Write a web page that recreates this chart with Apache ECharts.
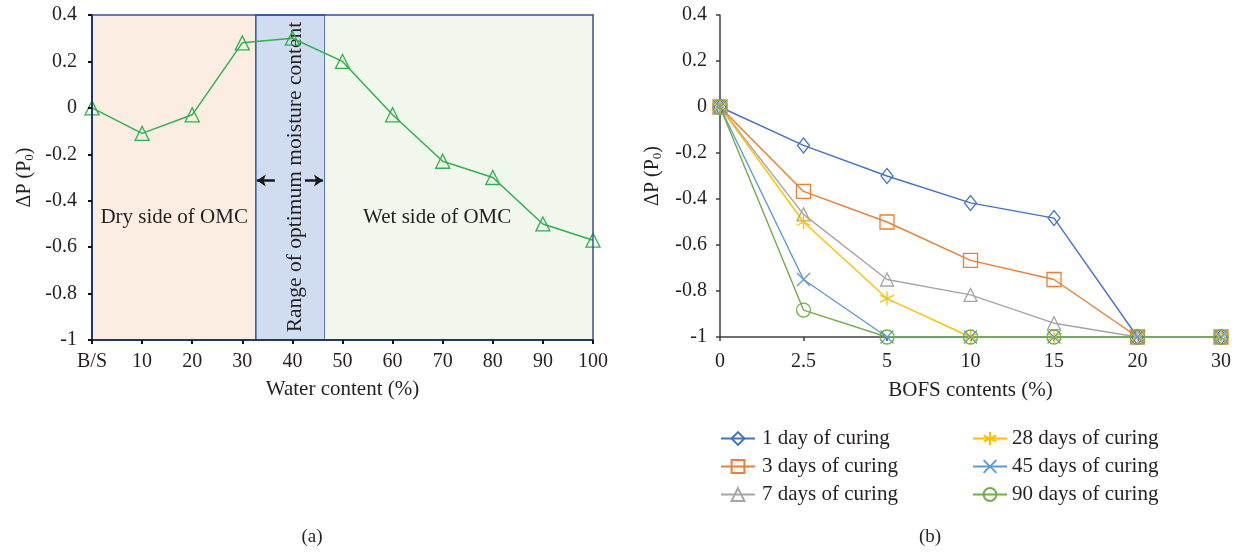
<!DOCTYPE html>
<html>
<head>
<meta charset="utf-8">
<script src="https://cdn.jsdelivr.net/npm/echarts@6/dist/echarts.min.js"></script>
<style>
  html, body { margin: 0; padding: 0; background: #ffffff; }
  #chart { width: 1239px; height: 552px; }
</style>
</head>
<body>
<div id="chart"></div>
<script>
// (a) change in ΔP against water content
const waterContent = [0, 10, 20, 30, 40, 50, 60, 70, 80, 90, 100];
const deltaPWater = [0, -0.11, -0.03, 0.28, 0.30, 0.20, -0.03, -0.23, -0.30, -0.50, -0.57];
const omcRange = [32.7, 46.5];

// (b) change in ΔP against BOFS content, one series per curing age
const bofsCategories = ['0', '2.5', '5', '10', '15', '20', '30'];
const curing1 = [0, -0.167, -0.30, -0.417, -0.483, -1, -1];
const curing3 = [0, -0.367, -0.50, -0.667, -0.75, -1, -1];
const curing7 = [0, -0.467, -0.75, -0.817, -0.94, -1, -1];
const curing28 = [0, -0.50, -0.833, -1, -1, -1, -1];
const curing45 = [0, -0.75, -1, -1, -1, -1, -1];
const curing90 = [0, -0.883, -1, -1, -1, -1, -1];
const yTicks = { min: -1, max: 0.4, interval: 0.2 };

const FONT = 'Liberation Serif';
const TXT = '#231f20';
const NAVY = '#1f3864';
const FRAME = '#2f5597';

const asterisk = 'path://M0,-10L0,10M-8.7,-5L8.7,5M-8.7,5L8.7,-5';
const cross = 'path://M-8,-8L8,8M-8,8L8,-8';

const yName = '{a|ΔP (P}{s|0}{a|)}';
const yNameStyle = {
  color: TXT, fontFamily: FONT,
  rich: {
    a: { fontSize: 20, fontFamily: FONT, color: TXT },
    s: { fontSize: 13, fontFamily: FONT, color: TXT, padding: [9, 0, 0, 0] }
  }
};
const tickLabel = { color: TXT, fontFamily: FONT, fontSize: 20 };

function curingSeries(name, data, color, symbol, size) {
  return {
    name, type: 'line', xAxisIndex: 2, yAxisIndex: 2,
    data, symbol, symbolSize: size,
    itemStyle: { color: 'transparent', borderColor: color, borderWidth: 1.3 },
    lineStyle: { color, width: 1.4 },
    emphasis: { disabled: true },
    animation: false
  };
}

const chart = echarts.init(document.getElementById('chart'), null, { renderer: 'canvas' });

chart.setOption({
  backgroundColor: '#ffffff',
  animation: false,
  grid: [
    { left: 92, right: 646, top: 15, bottom: 212 },
    { left: 720, right: 18, top: 15, bottom: 215 }
  ],
  xAxis: [
    {
      type: 'value', gridIndex: 0, min: 0, max: 100, interval: 10, z: 10,
      name: 'Water content (%)', nameLocation: 'middle', nameGap: 39,
      nameTextStyle: { color: TXT, fontFamily: FONT, fontSize: 21 },
      axisLine: { show: true, onZero: false, lineStyle: { color: NAVY, width: 2 } },
      axisTick: { show: true, length: 4, lineStyle: { color: '#111', width: 2 } },
      axisLabel: Object.assign({ margin: 12, formatter: v => (v === 0 ? 'B/S' : String(v)) }, tickLabel),
      splitLine: { show: false }
    },
    {
      type: 'value', gridIndex: 0, min: 0, max: 100, position: 'top', z: 10,
      axisLine: { show: true, onZero: false, lineStyle: { color: FRAME, width: 1.5 } },
      axisTick: { show: false }, axisLabel: { show: false }, splitLine: { show: false }
    },
    {
      type: 'category', gridIndex: 1, data: bofsCategories, boundaryGap: false,
      name: 'BOFS contents (%)', nameLocation: 'middle', nameGap: 43,
      nameTextStyle: { color: TXT, fontFamily: FONT, fontSize: 21 },
      axisLine: { show: true, onZero: false, lineStyle: { color: '#404040', width: 1.5 } },
      axisTick: { show: true, length: 4, alignWithLabel: true, lineStyle: { color: '#404040', width: 1.5 } },
      axisLabel: Object.assign({ margin: 15 }, tickLabel),
      splitLine: { show: false }
    }
  ],
  yAxis: [
    {
      type: 'value', gridIndex: 0, min: yTicks.min, max: yTicks.max, interval: yTicks.interval, z: 10,
      name: yName, nameLocation: 'middle', nameGap: 56, nameRotate: 90,
      nameTextStyle: yNameStyle,
      axisLine: { show: true, onZero: false, lineStyle: { color: NAVY, width: 2 } },
      axisTick: { show: true, length: 4, lineStyle: { color: '#111', width: 2 } },
      axisLabel: Object.assign({ margin: 15 }, tickLabel),
      splitLine: { show: false }
    },
    {
      type: 'value', gridIndex: 0, min: yTicks.min, max: yTicks.max, position: 'right', z: 10,
      axisLine: { show: true, onZero: false, lineStyle: { color: FRAME, width: 1.5 } },
      axisTick: { show: false }, axisLabel: { show: false }, splitLine: { show: false }
    },
    {
      type: 'value', gridIndex: 1, min: yTicks.min, max: yTicks.max, interval: yTicks.interval,
      name: yName, nameLocation: 'middle', nameGap: 56, nameRotate: 90,
      nameTextStyle: yNameStyle,
      axisLine: { show: true, onZero: false, lineStyle: { color: '#404040', width: 1.5 } },
      axisTick: { show: true, length: 4, lineStyle: { color: '#404040', width: 1.5 } },
      axisLabel: Object.assign({ margin: 13 }, tickLabel),
      splitLine: { show: false }
    }
  ],
  legend: [
    {
      left: 715, top: 423, orient: 'vertical', itemGap: 7,
      itemWidth: 34, itemHeight: 16,
      textStyle: { color: TXT, fontFamily: FONT, fontSize: 21, padding: [0, 0, 0, 2] },
      data: ['1 day of curing', '3 days of curing', '7 days of curing']
    },
    {
      left: 967, top: 423, orient: 'vertical', itemGap: 7,
      itemWidth: 34, itemHeight: 16,
      textStyle: { color: TXT, fontFamily: FONT, fontSize: 21, padding: [0, 0, 0, 0] },
      data: ['28 days of curing', '45 days of curing', '90 days of curing']
    }
  ],
  graphic: [
    { type: 'text', x: 312, y: 537, style: { text: '(a)', fill: TXT, font: '19px "Liberation Serif"', textAlign: 'center', textVerticalAlign: 'middle' } },
    { type: 'text', x: 930, y: 537, style: { text: '(b)', fill: TXT, font: '19px "Liberation Serif"', textAlign: 'center', textVerticalAlign: 'middle' } }
  ],
  series: [
    {
      name: 'ΔP', type: 'line', xAxisIndex: 0, yAxisIndex: 0,
      data: waterContent.map((x, i) => [x, deltaPWater[i]]),
      symbol: 'triangle', symbolSize: 14,
      itemStyle: { color: 'transparent', borderColor: '#2eb14f', borderWidth: 1.3 },
      lineStyle: { color: '#2eb14f', width: 1.5 },
      emphasis: { disabled: true },
      z: 5,
      markArea: {
        silent: true,
        data: [
          [{ xAxis: 0, itemStyle: { color: '#fcede2' } }, { xAxis: omcRange[0] }],
          [{ xAxis: omcRange[0], itemStyle: { color: '#d0dcf0', borderColor: FRAME, borderWidth: 1.5 } }, { xAxis: omcRange[1] }],
          [{ xAxis: omcRange[1], itemStyle: { color: '#f1f7ec' } }, { xAxis: 100 }]
        ]
      },
      markLine: {
        silent: true,
        symbol: ['none', 'arrow'], symbolSize: 9,
        label: { show: false },
        lineStyle: { color: '#1a1a1a', width: 2.5, type: 'solid' },
        data: [
          [{ coord: [36.5, -0.313] }, { coord: [32.9, -0.313] }],
          [{ coord: [42.5, -0.313] }, { coord: [46.1, -0.313] }]
        ]
      },
      markPoint: {
        silent: true,
        symbol: 'circle', symbolSize: 1,
        itemStyle: { color: 'transparent' },
        label: { show: true, position: 'inside', color: TXT, fontFamily: FONT, fontSize: 21, formatter: p => p.name },
        data: [
          { name: 'Dry side of OMC', coord: [16.4, -0.473] },
          { name: 'Wet side of OMC', coord: [68.9, -0.473] },
          { name: 'Range of optimum moisture content', coord: [40.5, -0.298], label: { rotate: 90, fontSize: 21.5 } }
        ]
      }
    },
    curingSeries('1 day of curing', curing1, '#4472c4', 'diamond', [12, 15]),
    curingSeries('3 days of curing', curing3, '#ed7d31', 'rect', 14),
    curingSeries('7 days of curing', curing7, '#a5a5a5', 'triangle', 13),
    curingSeries('28 days of curing', curing28, '#ffc000', asterisk, 14),
    curingSeries('45 days of curing', curing45, '#5b9bd5', cross, 13),
    curingSeries('90 days of curing', curing90, '#70ad47', 'circle', 14)
  ]
});
</script>
</body>
</html>
